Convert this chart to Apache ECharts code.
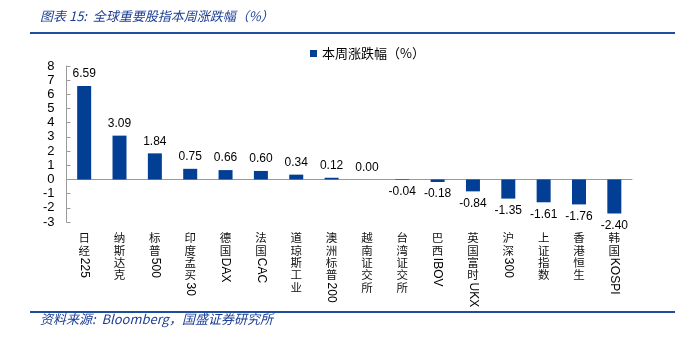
<!DOCTYPE html>
<html>
<head>
<meta charset="utf-8">
<script src="https://cdn.jsdelivr.net/npm/echarts@6/dist/echarts.min.js"></script>
<style>
html,body{margin:0;padding:0;background:#fff;}
#c{width:698px;height:338px;}
</style>
</head>
<body>
<div id="c"></div>
<script>
const titleText = '图表 15:  全球重要股指本周涨跌幅（%）';
const sourceText = '资料来源:  Bloomberg，国盛证券研究所';
const seriesName = '本周涨跌幅（%）';
const categories = ['日经225','纳斯达克','标普500','印度孟买30','德国DAX','法国CAC','道琼斯工业','澳洲标普200','越南证交所','台湾证交所','巴西IBOV','英国富时UKX','沪深300','上证指数','香港恒生','韩国KOSPI'];
const values = [6.59,3.09,1.84,0.75,0.66,0.60,0.34,0.12,0.00,-0.04,-0.18,-0.84,-1.35,-1.61,-1.76,-2.40];
const yMin = -3, yMax = 8, yStep = 1;

const BLUE = '#023f94';
const latinFont = '12px "Liberation Sans", Arial, sans-serif';
const cjkFont = '11.5px "Noto Sans CJK SC", sans-serif';
const mctx = document.createElement('canvas').getContext('2d');
function measure(t, f){ mctx.font = f; return mctx.measureText(t).width; }

function renderLabel(params, api){
  const i = api.value(0);
  const x = api.coord([i, 0])[0];
  const cs = params.coordSys;
  let y = cs.y + cs.height + 10;
  const children = [];
  const runs = categories[i].match(/[\x00-\x7f]+|[^\x00-\x7f]/g) || [];
  runs.forEach(r => {
    if (/^[\x00-\x7f]+$/.test(r)) {
      const w = measure(r, latinFont);
      children.push({type:'text', x: x, y: y + 1, rotation: -Math.PI/2,
        style:{text:r, font: latinFont, fill:'#000', align:'left', verticalAlign:'middle'}});
      y += w + 2;
    } else {
      children.push({type:'text', x: x, y: y,
        style:{text:r, font: cjkFont, fill:'#111', align:'center', verticalAlign:'top'}});
      y += 12.4;
    }
  });
  return {type:'group', children};
}

const chart = echarts.init(document.getElementById('c'));
chart.setOption({
  animation:false,
  backgroundColor:'#fff',
  grid:{left:66.5, right:66, top:66, bottom:116},
  legend:{data:[seriesName], left:305, top:42, icon:'rect', itemWidth:7, itemHeight:7, itemGap:4,
    textStyle:{fontFamily:'"Noto Sans CJK SC", sans-serif', fontSize:13, color:'#000'}},
  xAxis:{type:'category', data:categories,
    axisLine:{onZero:true, lineStyle:{color:'#9a9a9a', width:1}},
    axisTick:{inside:true, length:4, lineStyle:{color:'#9a9a9a'}},
    axisLabel:{show:false}},
  yAxis:{type:'value', min:yMin, max:yMax, interval:yStep,
    splitLine:{show:false},
    axisLine:{show:true, lineStyle:{color:'#9a9a9a'}},
    axisTick:{show:true, inside:true, length:4, lineStyle:{color:'#9a9a9a'}},
    axisLabel:{color:'#000', fontSize:13, fontFamily:'"Liberation Sans", Arial, sans-serif', margin:12}},
  series:[
    {name:seriesName, type:'bar', barWidth:14,
      itemStyle:{color:BLUE},
      data: values.map(v => ({value:v, label:{position: v < 0 ? 'bottom' : 'top'}})),
      label:{show:true, distance:6, color:'#000', fontSize:12, fontFamily:'"Liberation Sans", Arial, sans-serif',
        formatter: p => p.value.toFixed(2)}},
    {name:'labels', type:'custom', renderItem: renderLabel, clip:false, silent:true,
      data: categories.map((c,i) => [i]), encode:{x:0}}
  ],
  graphic:[
    {type:'text', left:40, top:10, style:{text:titleText, fill:'#1c3f94',
      font:'italic 13px "Noto Sans CJK SC", sans-serif'}},
    {type:'rect', shape:{x:30, y:32, width:645, height:2}, style:{fill:'#1f4e9f'}},
    {type:'rect', shape:{x:30, y:311, width:645, height:2}, style:{fill:'#1f4e9f'}},
    {type:'text', left:40, top:313, style:{text:sourceText, fill:'#1c3f94',
      font:'italic 13px "Noto Sans CJK SC", sans-serif'}}
  ]
});
</script>
</body>
</html>
